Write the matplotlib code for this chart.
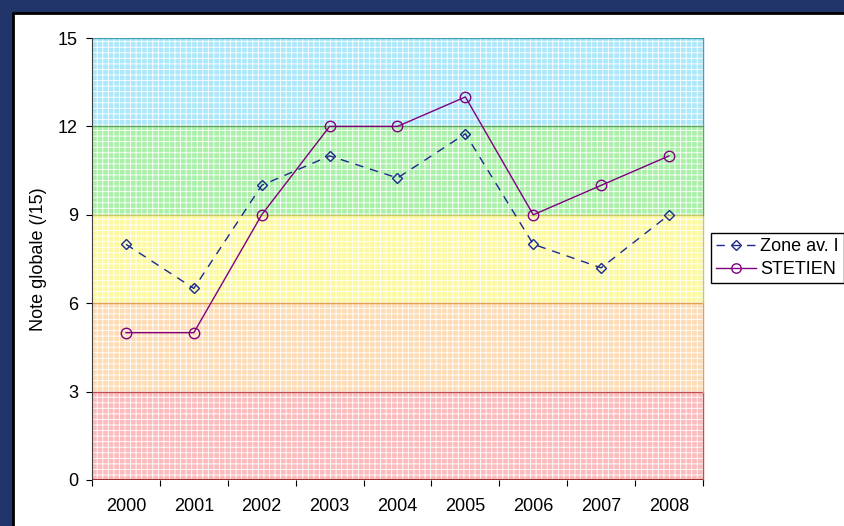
import matplotlib.pyplot as plt
from matplotlib.patches import Rectangle
from matplotlib.lines import Line2D

years = ['2000', '2001', '2002', '2003', '2004', '2005', '2006', '2007', '2008']
zone_av = [8, 6.5, 10, 11, 10.25, 11.75, 8, 7.2, 9]
stetien = [5, 5, 9, 12, 12, 13, 9, 10, 11]

# score bands: (low, high, fill, edge)
bands = [
    (0, 3, '#fcbcbe', '#c05050'),
    (3, 6, '#fddcb6', '#e0a050'),
    (6, 9, '#fcf9a2', '#c8c860'),
    (9, 12, '#aaf0a8', '#60a860'),
    (12, 15, '#ade8fa', '#40a0b8'),
]

plt.rcParams['font.family'] = ['Liberation Sans', 'DejaVu Sans']
plt.rcParams['hatch.linewidth'] = 0.6

fig = plt.figure(figsize=(8.45, 5.26), dpi=100, facecolor='#22356a')
# white panel, border only on top and left
x0, y0 = 13 / 845, 1 - 13 / 526
fig.patches.append(Rectangle((x0, 0), 1 - x0, y0, transform=fig.transFigure,
                             facecolor='white', edgecolor='none', linewidth=0, zorder=-5))
fig.lines.append(Line2D([x0, x0, 1], [0, y0, y0], transform=fig.transFigure,
                        color='black', linewidth=2, zorder=-4))

ax = fig.add_axes([92 / 845, 1 - 480 / 526, (703 - 92) / 845, (480 - 38) / 526])
ax.set_facecolor('white')

for lo, hi, fc, ec in bands:
    ax.axhspan(lo, hi, facecolor=fc, edgecolor='white', hatch='+++', linewidth=0, zorder=0)
    ax.axhline(hi, color=ec, linewidth=1, zorder=1)
    ax.plot([8.5, 8.5], [lo, hi], color=ec, linewidth=1, zorder=1, clip_on=False)
ax.axhline(0, color='#a03030', linewidth=1.5, zorder=1)

x = range(len(years))
ax.plot(x, zone_av, color='#1c2a8c', linestyle=(0, (6, 5)), linewidth=1,
        marker='D', markersize=5.5, markerfacecolor='none', markeredgecolor='#1c2a8c',
        label='Zone av. I', zorder=3)
ax.plot(x, stetien, color='#800080', linestyle='-', linewidth=1,
        marker='o', markersize=7.5, markerfacecolor='none', markeredgecolor='#800080',
        label='STETIEN', zorder=3)

ax.set_xlim(-0.5, len(years) - 0.5)
ax.set_ylim(0, 15)
ax.set_yticks([0, 3, 6, 9, 12, 15])
ax.set_xticks([i - 0.5 for i in range(len(years) + 1)])
ax.set_xticklabels([])
ax.set_xticks(list(x), minor=True)
ax.set_xticklabels(years, minor=True)
ax.tick_params(axis='x', which='minor', length=0, pad=13, labelsize=13)
ax.tick_params(axis='x', which='major', length=4, direction='out')
ax.tick_params(axis='y', length=4, direction='out', labelsize=13, pad=6)
ax.set_ylabel('Note globale (/15)', fontsize=13, labelpad=8)

for s in ['top', 'right', 'bottom']:
    ax.spines[s].set_visible(False)
ax.spines['left'].set_color('#404040')

fig.legend(loc='upper left', bbox_to_anchor=(711 / 845, 1 - 233 / 526), fontsize=13,
           frameon=True, fancybox=False, edgecolor='black', framealpha=1,
           handlelength=2.2, borderpad=0.3, labelspacing=0.3, handletextpad=0.2,
           borderaxespad=0, markerscale=0.9)

fig.savefig('out.png', dpi=100, facecolor=fig.get_facecolor())
